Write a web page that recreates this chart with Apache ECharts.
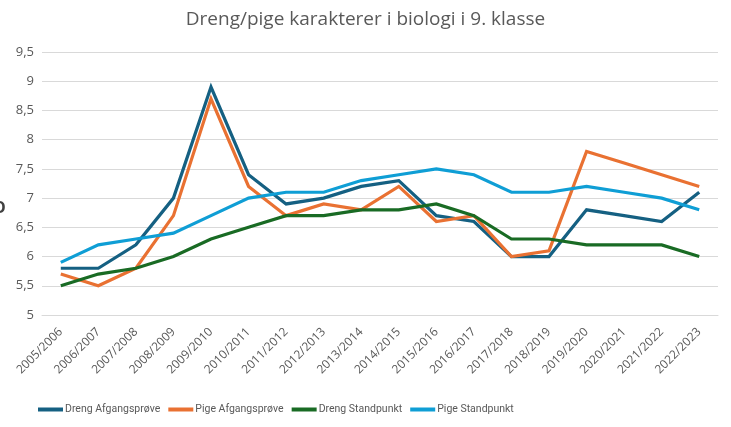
<!DOCTYPE html>
<html>
<head>
<meta charset="utf-8">
<script src="https://cdn.jsdelivr.net/npm/echarts@6/dist/echarts.min.js"></script>
<style>html,body{margin:0;padding:0;background:#fff;}#c{width:731px;height:427px;}</style>
</head>
<body>
<div id="c"></div>
<script>
var categories = ["2005/2006","2006/2007","2007/2008","2008/2009","2009/2010","2010/2011","2011/2012","2012/2013","2013/2014","2014/2015","2015/2016","2016/2017","2017/2018","2018/2019","2019/2020","2020/2021","2021/2022","2022/2023"];
var drengAfgang = [5.8,5.8,6.2,7.0,8.9,7.4,6.9,7.0,7.2,7.3,6.7,6.6,6.0,6.0,6.8,6.7,6.6,7.1];
var pigeAfgang = [5.7,5.5,5.8,6.7,8.7,7.2,6.7,6.9,6.8,7.2,6.6,6.7,6.0,6.1,7.8,7.6,7.4,7.2];
var drengStand = [5.5,5.7,5.8,6.0,6.3,6.5,6.7,6.7,6.8,6.8,6.9,6.7,6.3,6.3,6.2,6.2,6.2,6.0];
var pigeStand = [5.9,6.2,6.3,6.4,6.7,7.0,7.1,7.1,7.3,7.4,7.5,7.4,7.1,7.1,7.2,7.1,7.0,6.8];
var seriesNames = ["Dreng Afgangsprøve","Pige Afgangsprøve","Dreng Standpunkt","Pige Standpunkt"];
var colors = ["#156082","#E97132","#196B24","#0F9ED5"];
var FONT = "Open Sans";

var chart = echarts.init(document.getElementById('c'));
function mk(i, d){
  return {name: seriesNames[i], type:'line', data:d, symbol:'none',
    lineStyle:{width:3.2, color:colors[i], join:'miter'}, itemStyle:{color:colors[i]}};
}
chart.setOption({
  animation:false,
  title:{text:"Dreng/pige karakterer i biologi i 9. klasse", left:'center', top:5,
    textStyle:{fontFamily:FONT, fontSize:19, fontWeight:'normal', color:'#595959'}},
  grid:{left:42, right:13, top:52, bottom:112},
  legend:{bottom:7, left:33, itemWidth:25, itemHeight:4, itemGap:8, icon:'rect',
    textStyle:{fontFamily:"Roboto", fontSize:10.5, color:'#595959', padding:[0,0,0,-3]}},
  xAxis:{type:'category', data:categories, boundaryGap:true,
    axisLine:{show:true, lineStyle:{color:'#d9d9d9'}}, axisTick:{show:false},
    axisLabel:{rotate:45, interval:0, fontFamily:FONT, fontSize:12, color:'#595959', margin:15}},
  yAxis:{type:'value', min:5, max:9.5, interval:0.5,
    axisLine:{show:false}, axisTick:{show:false},
    splitLine:{lineStyle:{color:'#d9d9d9', width:1}},
    axisLabel:{fontFamily:FONT, fontSize:13, color:'#595959', margin:8,
      formatter:function(v){return String(v).replace('.',',');}}},
  graphic:[{type:'text', left:-7, top:200, style:{text:'O', font:'bold 16px "Open Sans"', fill:'#404040'}}],
  series:[mk(0,drengAfgang), mk(1,pigeAfgang), mk(2,drengStand), mk(3,pigeStand)]
});
</script>
</body>
</html>
